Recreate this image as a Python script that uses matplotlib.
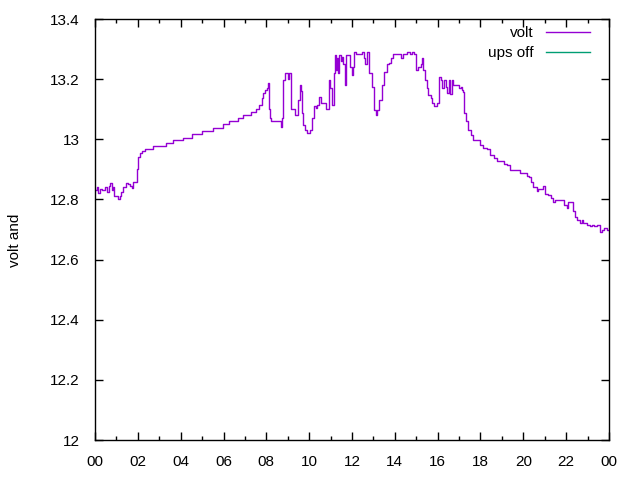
import matplotlib
matplotlib.use("Agg")
import matplotlib.pyplot as plt
from matplotlib.ticker import MultipleLocator, FixedLocator

# voltage readings over one day (hour of day, volt)
hours = [0.00, 0.10, 0.15, 0.25, 0.35, 0.45, 0.55, 0.65, 0.70, 0.78, 0.85, 0.89,
         1.09, 1.15, 1.22, 1.32, 1.45, 1.55, 1.65, 1.72, 1.79, 1.93, 1.97, 2.00,
         2.10, 2.20, 2.33, 2.69, 3.31, 3.63, 4.12, 4.51, 4.98, 5.52, 5.96, 6.27,
         6.69, 6.92, 7.27, 7.52, 7.67, 7.78, 7.86, 7.95, 8.01, 8.09, 8.13, 8.17,
         8.22, 8.55, 8.68, 8.72, 8.79, 8.87, 8.95, 9.00, 9.05, 9.10, 9.13, 9.30,
         9.34, 9.45, 9.49, 9.57, 9.62, 9.65, 9.72, 9.80, 9.91, 10.04, 10.15, 10.22,
         10.30, 10.38, 10.46, 10.54, 10.70, 10.77, 10.88, 10.92, 10.97, 11.05, 11.16, 11.22,
         11.26, 11.30, 11.34, 11.41, 11.47, 11.52, 11.59, 11.66, 11.72, 11.83, 11.90, 11.98,
         12.04, 12.09, 12.20, 12.37, 12.45, 12.56, 12.60, 12.68, 12.78, 12.81, 12.92, 13.02,
         13.12, 13.18, 13.27, 13.38, 13.49, 13.62, 13.72, 13.80, 13.90, 14.20, 14.27, 14.40,
         14.55, 14.70, 14.80, 14.90, 14.97, 15.10, 15.20, 15.27, 15.33, 15.40, 15.48, 15.56,
         15.67, 15.75, 15.84, 15.95, 16.02, 16.07, 16.17, 16.22, 16.30, 16.37, 16.45, 16.52,
         16.56, 16.65, 16.70, 16.90, 17.00, 17.10, 17.15, 17.20, 17.24, 17.30, 17.43, 17.54,
         17.66, 17.85, 17.97, 18.13, 18.31, 18.44, 18.63, 18.78, 18.99, 19.09, 19.22, 19.37,
         19.76, 19.84, 20.05, 20.15, 20.25, 20.34, 20.46, 20.62, 20.70, 20.90, 21.00, 21.15,
         21.27, 21.40, 21.50, 21.83, 21.90, 22.02, 22.10, 22.30, 22.33, 22.41, 22.49, 22.64,
         22.72, 22.80, 22.95, 23.10, 23.20, 23.30, 23.42, 23.58, 23.66, 23.76, 23.89, 24.00]
volt = [12.830, 12.840, 12.820, 12.835, 12.830, 12.840, 12.825, 12.845, 12.855, 12.830, 12.840, 12.810,
        12.800, 12.810, 12.825, 12.840, 12.855, 12.850, 12.845, 12.838, 12.857, 12.857, 12.900, 12.940,
        12.955, 12.960, 12.967, 12.978, 12.987, 12.998, 13.005, 13.016, 13.028, 13.037, 13.050, 13.060,
        13.070, 13.081, 13.092, 13.100, 13.114, 13.137, 13.153, 13.165, 13.170, 13.186, 13.100, 13.070,
        13.062, 13.062, 13.040, 13.070, 13.197, 13.220, 13.220, 13.200, 13.220, 13.220, 13.100, 13.100,
        13.080, 13.080, 13.130, 13.180, 13.160, 13.086, 13.047, 13.030, 13.020, 13.030, 13.070, 13.110,
        13.105, 13.115, 13.140, 13.120, 13.120, 13.100, 13.100, 13.197, 13.170, 13.114, 13.220, 13.280,
        13.230, 13.270, 13.220, 13.280, 13.260, 13.275, 13.250, 13.180, 13.280, 13.280, 13.240, 13.214,
        13.240, 13.290, 13.284, 13.284, 13.290, 13.270, 13.250, 13.290, 13.287, 13.220, 13.175, 13.097,
        13.080, 13.097, 13.130, 13.180, 13.225, 13.250, 13.255, 13.270, 13.284, 13.284, 13.270, 13.284,
        13.290, 13.284, 13.290, 13.284, 13.230, 13.240, 13.250, 13.270, 13.230, 13.197, 13.170, 13.147,
        13.137, 13.120, 13.112, 13.120, 13.120, 13.208, 13.197, 13.170, 13.197, 13.175, 13.155, 13.197,
        13.150, 13.197, 13.180, 13.180, 13.170, 13.175, 13.165, 13.158, 13.087, 13.060, 13.030, 13.014,
        12.998, 12.998, 12.980, 12.970, 12.969, 12.948, 12.937, 12.929, 12.927, 12.918, 12.913, 12.898,
        12.898, 12.889, 12.887, 12.878, 12.875, 12.859, 12.842, 12.829, 12.836, 12.845, 12.818, 12.815,
        12.804, 12.793, 12.797, 12.798, 12.783, 12.770, 12.790, 12.790, 12.760, 12.743, 12.732, 12.721,
        12.730, 12.720, 12.715, 12.712, 12.716, 12.712, 12.716, 12.693, 12.697, 12.704, 12.698, 12.698]
# "ups off" series has no points in this window
ups_hours = []
ups_volt = []

xticks = list(range(0, 25, 2))
xlabels = ["%02d" % (h % 24) for h in xticks]
yticks = [12, 12.2, 12.4, 12.6, 12.8, 13, 13.2, 13.4]
ylabels = ["12", "12.2", "12.4", "12.6", "12.8", "13", "13.2", "13.4"]

plt.rcParams['font.family'] = ['Liberation Sans', 'DejaVu Sans']
fs = 11

fig = plt.figure(figsize=(6.4, 4.8), dpi=100)
ax = fig.add_axes([95/640, 40/480, 514/640, 421/480])

ax.plot(hours, volt, color='#9400d3', lw=1, drawstyle='steps-post', label="volt")
ax.plot(ups_hours, ups_volt, color='#009e73', lw=1, label="ups off")

ax.set_xlim(0, 24)
ax.set_ylim(12, 13.4)
ax.xaxis.set_major_locator(FixedLocator(xticks))
ax.set_xticklabels(xlabels)
ax.xaxis.set_minor_locator(MultipleLocator(1))
ax.set_yticks(yticks)
ax.set_yticklabels(ylabels)

ax.tick_params(which='both', direction='in', top=True, right=True, labelsize=fs,
               colors='black', width=1)
ax.tick_params(which='major', length=6, pad=11)
ax.tick_params(which='minor', length=3)
for s in ax.spines.values():
    s.set_linewidth(1)

fig.text(15/640, 1 - 240/480, "volt and", rotation=90, ha='center', va='center', fontsize=fs)

ax.legend(loc='upper right', frameon=False, markerfirst=False, fontsize=fs,
          handlelength=2.9, handletextpad=0.8, labelspacing=0.4,
          borderpad=0, borderaxespad=0,
          bbox_to_anchor=(590/640, 1 - 26/480), bbox_transform=fig.transFigure)

fig.savefig("out.png", dpi=100)
